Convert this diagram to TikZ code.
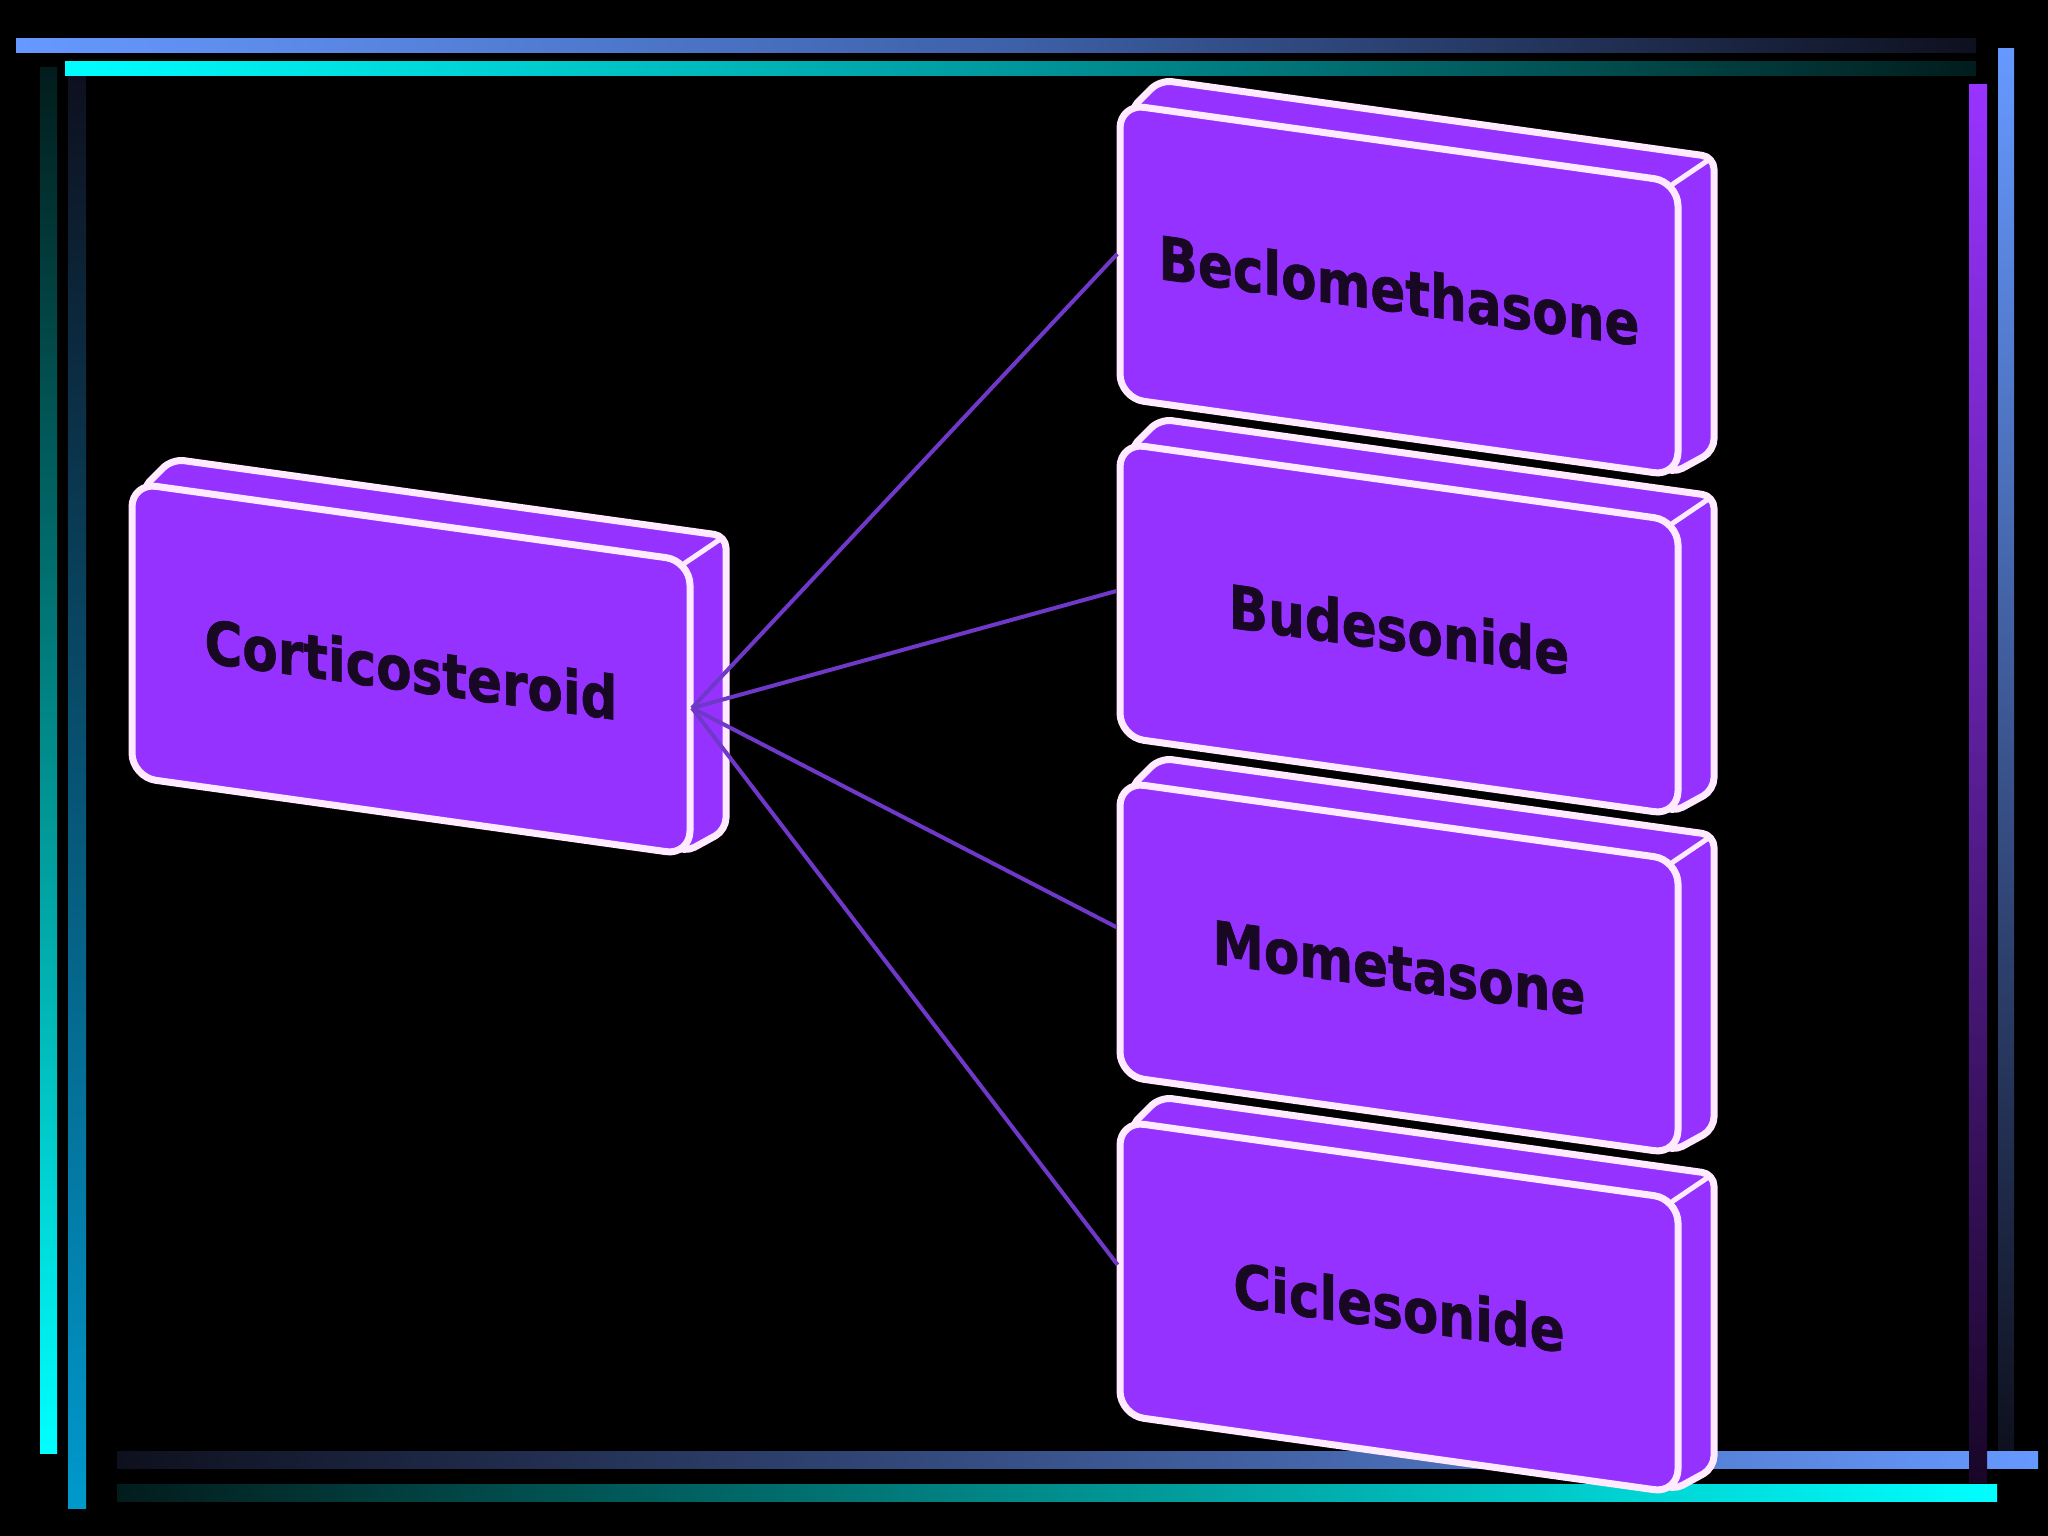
\documentclass[tikz,border=0pt]{standalone}
\usepackage{fontspec}
\setmainfont{DejaVu Sans}
\newfontfamily\slabfont{DejaVu Sans Bold}[FakeBold=1.2]
\definecolor{slabfill}{RGB}{150,50,255}
\definecolor{slabedge}{RGB}{255,234,255}
\definecolor{linkcol}{RGB}{112,56,200}
\definecolor{txtcol}{RGB}{24,8,36}
\definecolor{lblue}{RGB}{102,153,255}
\definecolor{lcyan}{RGB}{0,255,255}
\definecolor{mblue}{RGB}{0,153,204}
\definecolor{lpurple}{RGB}{153,51,255}
\definecolor{dnavy}{RGB}{14,16,30}
\definecolor{dteal}{RGB}{2,28,28}
\definecolor{dpurple}{RGB}{24,6,40}
\tikzset{
  slabline/.style={draw=slabedge, line width=7pt, fill=slabfill, line join=round},
  connector/.style={draw=linkcol, line width=4pt},
  slabtext/.style={font=\slabfont\fontsize{60}{62}\selectfont, text=txtcol,
    transform shape, yslant=-0.139, xscale=0.86, inner sep=0pt},
}
\newcommand\slabbox[4]{%
  \begin{scope}[shift={(#1,#2)}]
    \path[slabline, rounded corners=12pt] (9,7) -- (40,-24) -- (594,53) -- (594,347) -- (552,370) -- cycle;
    \path[slabline, rounded corners=24pt] (0,0) -- (558,78) -- (558,372) -- (0,294) -- cycle;
    \draw[slabedge, line width=5pt, line cap=round] (553,80) -- (590,55);
    \coordinate (#3-w) at (0,147);
    \coordinate (#3-e) at (560,225);
    \begin{scope}[shift={(279,186)}]
      \node[slabtext] (#3) at (0,0) {#4};
    \end{scope}
  \end{scope}}
\begin{document}
\begin{tikzpicture}[x=1pt,y=-1pt]
  \useasboundingbox (0,0) rectangle (2048,1536);
  \fill[black] (0,0) rectangle (2048,1536);
  % frame bars
  \shade[left color=lblue, right color=dnavy, middle color={rgb,255:red,62;green,98;blue,170}] (16,39) rectangle (1976,53);
  \shade[left color=lcyan, right color=dteal, middle color={rgb,255:red,0;green,150;blue,155}] (65,62) rectangle (1976,76);
  \shade[top color=dteal, bottom color=lcyan] (40,68) rectangle (57,1453);
  \shade[top color=dnavy, bottom color=mblue] (68,77) rectangle (86,1508);
  \shade[left color=dnavy, right color=lblue] (117,1451) rectangle (2038,1468);
  \shade[left color=dteal, right color=lcyan] (117,1484) rectangle (1997,1501);
  \shade[top color=lpurple, bottom color=dpurple] (1969,85) rectangle (1987,1482);
  \shade[top color=lblue, bottom color=dnavy] (1998,49) rectangle (2014,1450);
  % slabs
  \slabbox{1120}{104}{beclo}{Beclomethasone}
  \slabbox{1120}{443}{bude}{Budesonide}
  \slabbox{1120}{782}{mome}{Mometasone}
  \slabbox{1120}{1121}{cicle}{Ciclesonide}
  \slabbox{132}{483}{cort}{Corticosteroid}
  % connectors
  \draw[connector, shorten >=4pt] (cort-e) -- (beclo-w);
  \draw[connector, shorten >=4pt] (cort-e) -- (bude-w);
  \draw[connector, shorten >=4pt] (cort-e) -- (mome-w);
  \draw[connector, shorten >=4pt] (cort-e) -- (cicle-w);
\end{tikzpicture}
\end{document}
